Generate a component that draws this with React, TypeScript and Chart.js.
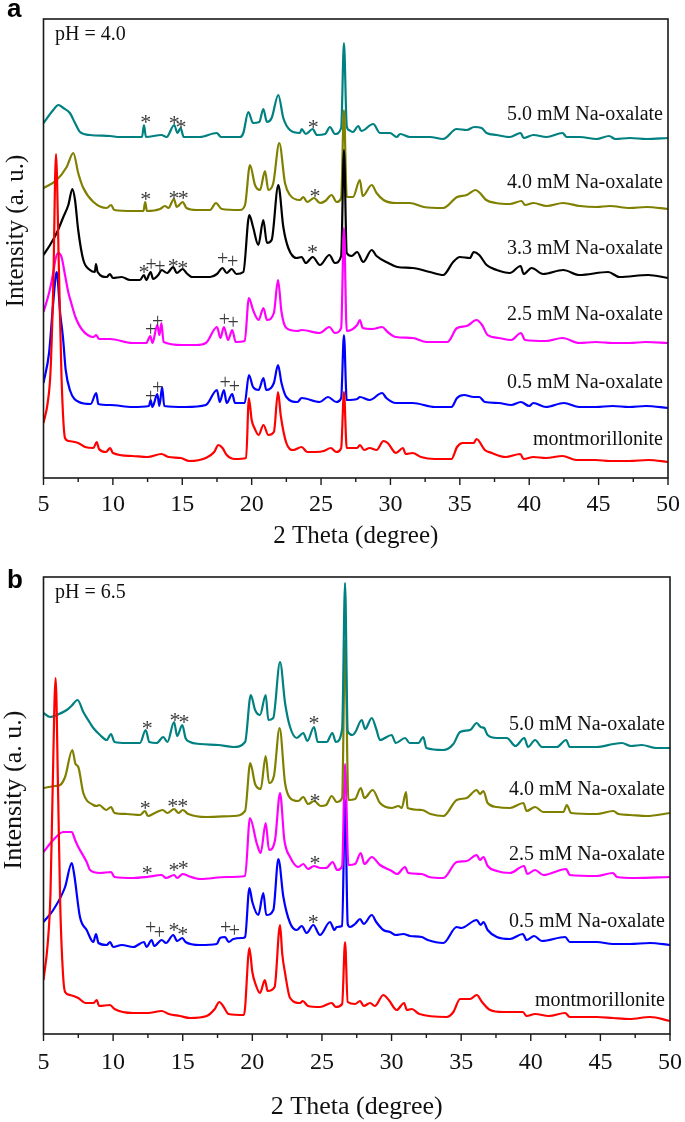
import React, { useEffect, useRef } from 'react';
import { Chart, registerables } from 'chart.js';
Chart.register(...registerables);

// ---------- x axis ----------
const xMajorTicks = [5, 10, 15, 20, 25, 30, 35, 40, 45, 50];
const xMinorTicks = [7.5, 12.5, 17.5, 22.5, 27.5, 32.5, 37.5, 42.5, 47.5];

// ---------- panel a (pH 4.0) : [2θ, intensity a.u. incl. stacking offset] ----------
const aMont = [[5,55],[5.3,75],[5.5,105],[5.7,190],[5.9,324],[6.1,215],[6.3,100],[6.55,40],[6.8,37],[7.5,35],[8.0,31],[8.6,30],[8.83,36],[9.0,29],[9.5,26],[9.8,30],[10.0,25],[11.4,22],[12.5,21],[13.5,24],[14.0,21],[14.9,20],[15.5,17],[16.7,20],[17.3,26],[17.6,33],[17.9,30],[18.2,23],[18.8,19],[19.6,20],[19.8,80],[20.0,58],[20.2,50],[20.5,43],[20.85,53],[21.2,43],[21.6,46],[21.9,86],[22.1,62],[22.5,35],[23.0,28],[23.6,31],[24.0,26],[24.6,26],[25.2,27],[25.7,30],[26.1,26],[26.45,30],[26.65,86],[26.85,30],[27.2,30],[27.6,30],[27.8,33],[28.1,28],[28.5,30],[29.0,28],[29.5,37],[29.8,35],[30.4,25],[30.9,30],[31.1,24],[31.6,25],[32.2,21],[33.2,19],[34.4,19],[34.8,31],[35.2,35],[36.0,35],[36.2,39],[36.8,28],[37.3,25],[38.3,21],[39.35,24],[39.6,19],[40.3,21],[41.2,20],[42.4,22],[43.4,18],[44.8,18],[45.8,17],[47.2,17],[48.6,18],[50,16]];
const aOx05 = [[5,95],[5.4,125],[5.7,175],[5.95,206],[6.2,165],[6.4,141],[6.6,108],[6.9,88],[7.55,76],[8.4,74],[8.8,85],[8.95,74],[9.8,73],[11.4,71],[12.6,72],[12.72,78],[12.85,71],[13.2,84],[13.35,72],[13.55,91],[13.7,72],[15.2,71],[16.7,73],[17.5,88],[17.7,76],[18.0,88],[18.2,75],[18.6,84],[18.8,75],[19.5,75],[19.8,103],[20.1,91],[20.5,88],[20.85,100],[21.05,88],[21.6,95],[21.9,113],[22.15,95],[22.5,81],[23.3,76],[23.6,80],[24.9,76],[25.5,81],[26.1,76],[26.45,80],[26.65,143],[26.85,78],[27.6,79],[27.8,81],[28.5,78],[29.4,85],[29.7,80],[30.4,75],[31.6,75],[33.2,71],[34.4,71],[34.8,80],[35.3,83],[36.0,81],[36.4,81],[36.8,76],[37.8,75],[38.7,73],[39.4,76],[40.0,72],[40.3,75],[41.2,71],[42.5,75],[43.6,71],[44.8,71],[46,72],[47.2,71],[48.4,72],[50,70]];
const aOx25 = [[5,166],[5.4,185],[5.7,205],[5.85,218],[6.05,225],[6.3,221],[6.55,203],[6.8,185],[7.0,175],[7.3,161],[7.8,148],[8.6,141],[8.8,143],[9.0,139],[9.8,139],[11.4,135],[12.4,135],[12.7,142],[12.85,135],[13.2,153],[13.35,143],[13.5,155],[13.65,136],[15.0,133],[16.0,133],[16.7,135],[17.5,151],[17.75,140],[18.0,151],[18.3,138],[18.6,148],[18.85,136],[19.5,137],[19.8,180],[20.1,168],[20.5,158],[20.85,170],[21.1,158],[21.6,165],[21.9,198],[22.15,166],[22.5,150],[23.3,147],[23.6,148],[24.9,145],[25.6,151],[26.0,145],[26.45,150],[26.65,250],[26.85,147],[27.6,153],[27.8,158],[28.0,150],[28.7,149],[29.4,151],[29.8,146],[30.4,141],[31.6,140],[32.6,136],[34.1,136],[34.8,150],[35.5,152],[36.2,158],[36.6,153],[37.0,143],[37.8,140],[38.7,138],[39.4,145],[39.7,138],[41.2,137],[42.4,140],[43.6,135],[44.8,136],[46,135],[47.2,135],[48.4,136],[50,135]];
const aOx33 = [[5,223],[5.47,233],[5.95,245],[6.43,261],[6.79,273],[7.08,289],[7.27,278],[7.5,248],[7.87,218],[8.35,208],[8.7,206],[8.78,214],[8.9,206],[9.55,201],[9.79,204],[10.0,200],[10.63,201],[11.23,198],[11.95,198],[12.24,203],[12.4,198],[12.72,206],[12.9,199],[13.27,203],[13.51,208],[13.9,205],[14.35,211],[14.6,205],[15.03,209],[15.3,205],[15.7,201],[17.0,201],[17.5,204],[17.9,210],[18.2,205],[18.56,209],[18.9,204],[19.4,206],[19.83,263],[20.1,251],[20.48,233],[20.84,258],[21.1,235],[21.44,238],[21.92,293],[22.28,251],[22.64,230],[23.24,220],[23.6,221],[23.9,215],[24.4,221],[24.92,213],[25.6,223],[26.0,215],[26.45,222],[26.65,328],[26.85,225],[27.2,222],[27.6,226],[28.04,216],[28.65,228],[29.0,222],[29.85,215],[30.5,211],[31.6,210],[32.85,206],[33.8,203],[34.52,216],[35.0,221],[35.73,220],[36.0,226],[36.4,223],[36.93,213],[37.65,208],[38.6,205],[39.38,212],[39.6,204],[40.17,210],[41.0,204],[42.45,208],[43.6,203],[45.69,206],[46.5,201],[48.57,203],[50,200]];
const aOx40 = [[5,290],[5.95,298],[6.67,311],[7.15,325],[7.5,305],[7.87,290],[8.6,276],[9.55,270],[9.87,273],[10.1,268],[11.47,267],[12.2,267],[12.33,276],[12.45,267],[13.4,269],[13.75,272],[14.0,270],[14.4,279],[14.6,271],[15.03,276],[15.3,270],[16.04,268],[17.0,268],[17.43,275],[17.84,269],[19.16,268],[19.52,273],[19.88,313],[20.24,293],[20.6,288],[20.96,307],[21.2,288],[21.56,295],[21.99,335],[22.4,295],[22.76,283],[23.48,278],[23.72,281],[24.0,276],[24.5,280],[24.92,275],[25.3,277],[25.76,283],[26.12,276],[26.45,280],[26.65,368],[26.85,281],[27.3,281],[27.8,298],[28.0,282],[28.65,293],[29.0,285],[29.5,278],[30.4,275],[31.4,275],[32.4,271],[33.8,270],[34.8,281],[35.5,283],[36.14,288],[36.45,285],[36.9,278],[37.6,275],[38.6,274],[39.45,277],[39.7,273],[40.3,275],[41.25,272],[42.45,275],[43.65,272],[44.85,271],[45.8,272],[47.25,270],[48.45,271],[50,269]];
const aOx50 = [[5,355],[5.7,368],[6.07,373],[6.43,370],[6.9,365],[7.27,355],[7.63,346],[8.35,343],[9.8,342],[10.5,341],[11.47,341],[12.1,341],[12.24,353],[12.38,341],[13.5,343],[13.87,341],[14.42,353],[14.65,345],[14.88,350],[15.1,341],[16.27,341],[17.48,345],[17.8,341],[19.16,341],[19.4,345],[19.76,366],[20.1,355],[20.55,356],[20.84,369],[21.1,356],[21.44,360],[21.92,383],[22.28,360],[22.76,348],[23.48,345],[23.6,349],[23.9,344],[24.4,349],[24.7,343],[25.3,344],[25.64,351],[26.0,344],[26.45,350],[26.65,435],[26.85,352],[27.0,348],[27.3,346],[27.68,352],[27.9,347],[28.76,354],[29.25,345],[29.97,345],[30.45,341],[30.7,344],[31.4,341],[32.85,341],[33.8,339],[34.77,349],[35.5,348],[36.04,351],[36.57,350],[36.93,345],[37.65,343],[38.6,341],[39.38,345],[39.6,340],[40.3,343],[41.25,341],[42.4,345],[42.7,341],[43.65,341],[44.85,339],[45.76,342],[46.2,339],[47.25,340],[48.45,339],[50,340]];

// ---------- panel b (pH 6.5) ----------
const bMont = [[5,54],[5.3,90],[5.5,140],[5.65,240],[5.87,356],[6.05,240],[6.2,130],[6.4,60],[6.55,42],[6.9,39],[7.5,36],[8.0,31],[8.6,31],[8.82,34],[9.0,28],[9.78,29],[10.1,25],[11.45,21],[12.5,21],[13.49,23],[14.0,20],[14.8,18],[15.52,16],[16.72,18],[17.3,25],[17.63,32],[17.9,28],[18.3,20],[19.4,19],[19.79,86],[20.0,62],[20.2,51],[20.55,41],[20.9,54],[21.1,43],[21.6,47],[21.99,109],[22.15,80],[22.35,61],[22.71,36],[23.43,31],[23.62,33],[24.0,28],[24.86,27],[25.7,31],[26.0,27],[26.45,30],[26.66,92],[26.85,32],[27.38,30],[27.74,33],[28.0,28],[28.46,31],[28.8,28],[29.41,39],[29.8,34],[30.37,24],[30.9,31],[31.1,24],[31.45,25],[32.0,20],[33.96,17],[34.44,22],[34.92,35],[35.64,35],[36.12,39],[36.5,32],[37.08,24],[38.0,22],[39.43,22],[39.7,18],[40.31,20],[41.3,18],[42.47,21],[42.8,17],[44.74,17],[45.9,16],[47.1,15],[48.57,17],[50,13]];
const bOx05 = [[5,112],[5.7,124],[6.55,147],[7.03,171],[7.2,160],[7.62,117],[8.1,104],[8.58,92],[8.77,100],[8.95,91],[9.54,89],[9.78,92],[10.0,87],[10.62,89],[11.45,87],[12.22,92],[12.4,87],[12.77,94],[12.95,88],[13.49,94],[13.8,91],[14.32,99],[14.6,93],[14.97,96],[15.2,92],[16.24,89],[17.44,90],[17.68,96],[18.04,97],[18.3,92],[18.64,95],[19.3,96],[19.48,97],[19.79,146],[20.0,132],[20.43,119],[20.79,141],[21.0,119],[21.51,124],[21.87,175],[22.23,137],[22.71,111],[23.19,104],[23.55,108],[23.9,101],[24.38,109],[24.86,99],[25.58,112],[25.9,104],[26.06,107],[26.45,108],[26.66,234],[26.85,110],[27.02,107],[27.38,110],[27.74,115],[28.0,110],[28.58,119],[28.9,112],[29.41,104],[29.89,102],[30.3,99],[30.85,100],[31.33,98],[32.17,97],[32.6,94],[33.72,91],[34.68,107],[35.0,106],[36.12,114],[36.4,109],[36.6,112],[36.9,104],[37.56,97],[38.5,95],[39.43,100],[39.7,94],[40.24,98],[40.8,93],[42.47,97],[42.8,92],[44.74,92],[45.9,90],[47.1,90],[48.57,91],[50,89]];
const bOx25 = [[5,182],[5.7,194],[6.42,202],[7.03,202],[7.27,194],[7.5,187],[8.1,172],[8.34,164],[9.06,161],[9.85,162],[10.1,157],[11.45,156],[12.41,157],[13.49,159],[13.8,156],[14.38,159],[14.6,156],[15.0,160],[15.4,158],[16.24,155],[18.16,157],[19.48,158],[19.83,216],[20.31,191],[20.6,181],[20.96,211],[21.2,184],[21.63,194],[21.99,241],[22.3,194],[22.71,177],[23.3,167],[23.66,170],[24.0,165],[24.43,168],[24.9,166],[25.3,166],[25.77,172],[26.1,164],[26.45,168],[26.66,270],[26.9,169],[27.38,170],[27.79,181],[28.05,170],[28.58,177],[29.17,169],[30.01,163],[30.4,160],[30.97,167],[31.2,161],[32.17,160],[32.7,157],[33.72,156],[34.68,172],[35.4,173],[36.12,179],[36.35,174],[36.6,177],[36.9,168],[37.56,163],[38.5,161],[39.52,168],[39.75,160],[40.31,164],[40.9,159],[42.54,165],[42.8,159],[44.74,158],[45.89,161],[46.2,157],[47.5,156],[50,157]];
const bOx40 = [[5,246],[5.83,248],[6.19,249],[6.55,257],[7.07,284],[7.3,270],[7.5,267],[7.86,241],[8.58,229],[8.82,228],[9.0,229],[9.5,224],[9.85,227],[10.1,221],[10.98,220],[11.93,219],[12.29,223],[12.5,218],[13.0,221],[13.56,224],[13.9,221],[14.38,225],[14.7,221],[15.0,224],[15.4,220],[16.72,217],[18.64,218],[19.48,223],[19.85,271],[20.2,250],[20.6,245],[20.96,278],[21.2,251],[21.55,258],[21.96,306],[22.35,251],[22.71,236],[23.3,233],[23.66,237],[24.0,230],[24.45,233],[24.9,228],[25.3,229],[25.7,238],[26.06,232],[26.45,236],[26.66,394],[26.9,234],[27.38,235],[27.79,246],[28.05,236],[28.65,244],[29.17,231],[30.01,226],[30.5,228],[30.73,226],[31.04,242],[31.15,226],[32.17,224],[32.8,220],[33.72,218],[34.68,234],[35.4,236],[36.12,244],[36.35,240],[36.6,243],[36.9,231],[37.56,227],[38.5,226],[39.47,231],[39.7,223],[40.31,227],[40.9,222],[42.34,222],[42.59,229],[42.9,221],[44.74,220],[45.93,223],[46.3,220],[47.13,219],[48.33,218],[50,221]];
const bOx50 = [[5,321],[5.47,317],[5.95,319],[6.67,324],[7.0,328],[7.45,334],[7.86,322],[8.34,311],[8.58,306],[9.06,299],[9.54,294],[9.85,300],[10.1,292],[10.98,291],[11.93,291],[12.34,304],[12.6,292],[13.13,291],[13.6,297],[13.9,292],[14.38,312],[14.6,298],[14.97,309],[15.2,296],[15.52,292],[16.24,290],[17.56,289],[18.64,287],[19.48,292],[19.89,339],[20.2,324],[20.55,319],[20.96,339],[21.15,314],[21.5,316],[21.99,372],[22.35,331],[22.71,307],[23.19,296],[23.66,301],[23.95,293],[24.43,307],[24.7,292],[25.34,292],[25.75,301],[26.0,292],[26.45,305],[26.66,451],[26.85,303],[27.2,299],[27.4,302],[27.86,314],[28.1,305],[28.58,316],[28.9,305],[29.17,294],[30.01,299],[30.3,291],[30.97,296],[31.3,291],[31.93,291],[32.28,297],[32.5,286],[33.72,284],[34.44,290],[34.92,302],[35.64,304],[36.12,311],[36.4,307],[36.65,306],[36.9,299],[37.56,296],[38.28,296],[38.9,288],[39.54,296],[39.8,287],[40.31,294],[40.8,287],[41.87,287],[42.54,294],[42.8,287],[44.74,287],[45.93,290],[46.54,291],[47.2,288],[47.97,289],[49.0,286],[50,286]];

// ---------- peak markers [2θ, intensity, symbol] ----------
const aMarks = [
  [12.36,361,'*'],[14.42,360,'*'],[14.91,356,'*'],[24.44,356,'*'],
  [12.36,284,'*'],[14.40,285,'*'],[15.07,285,'*'],[24.56,287,'*'],
  [12.24,211,'*'],[12.75,213,'+'],[13.39,211,'+'],[14.35,217,'*'],[15.03,215,'*'],[17.91,219,'+'],[18.63,216,'+'],[24.39,231,'*'],
  [12.72,148,'+'],[13.23,156,'+'],[18.03,158,'+'],[18.67,155,'+'],
  [12.72,81,'+'],[13.23,90,'+'],[18.08,95,'+'],[18.75,91,'+'],
];
const bMarks = [
  [12.46,311,'*'],[14.45,319,'*'],[15.09,317,'*'],[24.43,316,'*'],
  [12.31,231,'*'],[14.28,233,'*'],[15.0,233,'*'],[24.5,238,'*'],
  [12.46,166,'*'],[14.38,169,'*'],[15.04,171,'*'],[24.5,176,'*'],
  [12.7,106,'+'],[13.32,101,'+'],[14.38,109,'*'],[15.0,105,'*'],[18.09,106,'+'],[18.71,103,'+'],[24.38,117,'*'],
];

// ---------- series labels ----------
const aLabels = ['5.0 mM Na-oxalate','4.0 mM Na-oxalate','3.3 mM Na-oxalate','2.5 mM Na-oxalate','0.5 mM Na-oxalate','montmorillonite'];
const aLabelLevels = [363, 295, 229, 163, 95, 38];
const bLabels = ['5.0 mM Na-oxalate','4.0 mM Na-oxalate','2.5 mM Na-oxalate','0.5 mM Na-oxalate','montmorillonite'];
const bLabelLevels = [309, 244, 179, 112, 33];

const C = { red: '#ff0000', blue: '#0000ff', mag: '#ff00ff', black: '#000000', olive: '#808000', teal: '#008080' };
const SERIF = '"Liberation Serif", "Times New Roman", serif';

const panels = [
  {
    letter: 'a', ph: 'pH = 4.0', height: 560, ymax: 459,
    padding: { left: 43.5, top: 19, right: 17, bottom: 82 },
    letterY: 17, tickLabelOff: 27, titleOff: 58, titleSize: 25, yTitle: { x: 16.5, y: 231 },
    series: [
      { data: aMont, color: C.red }, { data: aOx25, color: C.mag }, { data: aOx05, color: C.blue },
      { data: aOx33, color: C.black }, { data: aOx40, color: C.olive }, { data: aOx50, color: C.teal },
    ],
    labels: aLabels, levels: aLabelLevels, marks: aMarks,
  },
  {
    letter: 'b', ph: 'pH = 6.5', height: 562, ymax: 457,
    padding: { left: 43.5, top: 17, right: 15, bottom: 88 },
    letterY: 28, tickLabelOff: 29, titleOff: 73, titleSize: 26, yTitle: { x: 14.5, y: 230 },
    series: [
      { data: bMont, color: C.red }, { data: bOx50, color: C.teal }, { data: bOx40, color: C.olive },
      { data: bOx25, color: C.mag }, { data: bOx05, color: C.blue },
    ],
    labels: bLabels, levels: bLabelLevels, marks: bMarks,
  },
];

function makeDecor(p: any) {
  return {
    id: 'decor',
    afterDraw(chart: any) {
      const ctx = chart.ctx;
      const { left, top, right, bottom } = chart.chartArea;
      const xs = chart.scales.x, ys = chart.scales.y;
      ctx.save();
      // frame
      ctx.strokeStyle = '#1a1a1a';
      ctx.lineWidth = 1.6;
      ctx.strokeRect(left, top, right - left, bottom - top);
      // ticks
      ctx.lineWidth = 1.4;
      ctx.beginPath();
      xMajorTicks.forEach(t => { const px = xs.getPixelForValue(t); ctx.moveTo(px, bottom); ctx.lineTo(px, bottom + 7); });
      xMinorTicks.forEach(t => { const px = xs.getPixelForValue(t); ctx.moveTo(px, bottom); ctx.lineTo(px, bottom + 4); });
      ctx.stroke();
      ctx.fillStyle = '#111';
      ctx.font = `24px ${SERIF}`;
      ctx.textAlign = 'center';
      ctx.textBaseline = 'middle';
      xMajorTicks.forEach(t => ctx.fillText(String(t), xs.getPixelForValue(t), bottom + p.tickLabelOff));
      // axis titles
      ctx.font = `${p.titleSize}px ${SERIF}`;
      ctx.fillText('2 Theta (degree)', (left + right) / 2, bottom + p.titleOff);
      ctx.save();
      ctx.translate(p.yTitle.x, p.yTitle.y);
      ctx.rotate(-Math.PI / 2);
      ctx.fillText('Intensity (a. u.)', 0, 0);
      ctx.restore();
      // series labels
      ctx.font = `20px ${SERIF}`;
      ctx.textAlign = 'right';
      p.labels.forEach((s: string, i: number) => ctx.fillText(s, right - 5, ys.getPixelForValue(p.levels[i])));
      // pH
      ctx.textAlign = 'left';
      ctx.textBaseline = 'alphabetic';
      ctx.fillText(p.ph, left + 11.5, top + 21);
      // markers
      ctx.fillStyle = '#3a3a3a';
      ctx.textAlign = 'center';
      p.marks.forEach((m: any) => {
        const star = m[2] === '*';
        ctx.font = `${star ? 22 : 20}px ${SERIF}`;
        const off = star ? 11.5 : 5.5;
        ctx.fillText(m[2], xs.getPixelForValue(m[0]), ys.getPixelForValue(m[1]) + off);
      });
      // panel letter
      ctx.fillStyle = '#000';
      ctx.font = 'bold 26px "Liberation Sans", Arial, sans-serif';
      ctx.textAlign = 'left';
      ctx.fillText(p.letter, 7, p.letterY);
      ctx.restore();
    },
  };
}

function Panel({ p }: { p: any }) {
  const ref = useRef<HTMLCanvasElement>(null);
  useEffect(() => {
    const chart = new Chart(ref.current as HTMLCanvasElement, {
      type: 'line',
      data: {
        datasets: p.series.map((s: any) => ({
          data: s.data, borderColor: s.color, borderWidth: 2.2, pointRadius: 0,
          cubicInterpolationMode: 'monotone', fill: false, borderJoinStyle: 'round',
        })),
      },
      options: {
        animation: false, responsive: false, events: [],
        layout: { padding: p.padding },
        scales: {
          x: { type: 'linear', min: 5, max: 50, display: false },
          y: { type: 'linear', min: 0, max: p.ymax, display: false },
        },
        plugins: { legend: { display: false }, tooltip: { enabled: false } },
      },
      plugins: [makeDecor(p)],
    } as any);
    return () => chart.destroy();
  }, []);
  return <canvas ref={ref} width={685} height={p.height} style={{ display: 'block', width: 685, height: p.height }} />;
}

export default function App() {
  return (
    <div style={{ position: 'absolute', left: 0, top: 0, width: 685, height: 1122, background: '#fff' }}>
      {panels.map(p => <Panel key={p.letter} p={p} />)}
    </div>
  );
}
